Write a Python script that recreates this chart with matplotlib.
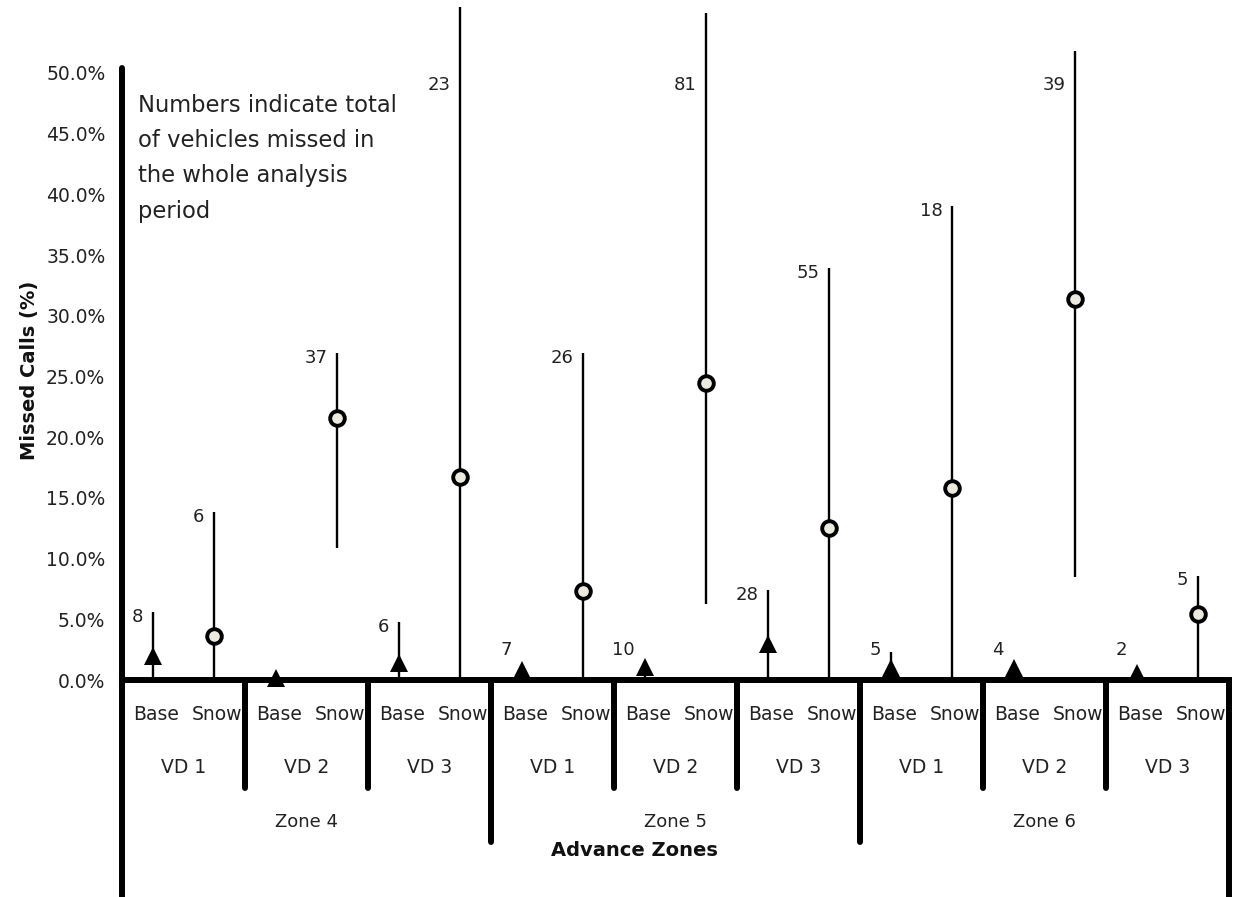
import matplotlib
matplotlib.use("Agg")
import matplotlib.pyplot as plt
import numpy as np

plt.rcParams['font.family'] = ['DejaVu Sans']

# data (values in %)
zones = ['Zone 4', 'Zone 5', 'Zone 6']
vds = ['VD 1', 'VD 2', 'VD 3']
conds = ['Base', 'Snow']

base_val = [2.0, 0.2, 1.4, 0.8, 1.1, 3.0, 1.0, 1.0, 0.6]
base_lo = [0, 0.2, 0, 0, 0, 0, 0, 0, 0]
base_hi = [5.6, 0.2, 4.8, 1.0, 1.2, 7.4, 2.3, 1.2, 0.7]
base_lbl = ['8', '', '6', '7', '10', '28', '5', '4', '2']

snow_val = [3.6, 21.6, 16.7, 7.3, 24.5, 12.5, 15.8, 31.4, 5.4]
snow_lo = [0, 10.9, 0, 0, 6.3, 0, 0, 8.5, 0]
snow_hi = [13.8, 26.9, 55.4, 26.9, 54.9, 33.9, 39.0, 51.8, 8.6]
snow_lbl = ['6', '37', '23', '26', '81', '55', '18', '39', '5']

W, H = 1236, 897
fig = plt.figure(figsize=(W / 100, H / 100), dpi=100)
ax = fig.add_axes([122 / W, 1 - 680 / H, (1229 - 122) / W, 680 / H])
ax.set_xlim(0, 18)
ax.set_ylim(0, 56)

n = len(base_val)
xb = np.arange(n) * 2 + 0.5
xs = np.arange(n) * 2 + 1.5

# error lines
ax.vlines(xb, base_lo, base_hi, color='black', lw=1.7, zorder=2)
ax.vlines(xs, snow_lo, snow_hi, color='black', lw=1.7, zorder=2)

# markers
ax.plot(xb, base_val, ls='none', marker='^', ms=13, color='black',
        mew=0, zorder=4, clip_on=False)
ax.plot(xs, snow_val, ls='none', marker='o', ms=10.5, mfc='#ece9df',
        mec='black', mew=2.8, zorder=4, clip_on=False)

# count labels
for x, hi, t in list(zip(xb, base_hi, base_lbl)) + list(zip(xs, snow_hi, snow_lbl)):
    if not t:
        continue
    y = min(max(hi - 0.4, 2.5), 49)
    ax.annotate(t, (x, y), xytext=(-7, 0), textcoords='offset points',
                ha='right', va='center', fontsize=13, color='#222222')

# axes styling
for s in ['top', 'right', 'left']:
    ax.spines[s].set_visible(False)
ax.spines['bottom'].set_linewidth(4.3)
ax.spines['bottom'].set_capstyle('projecting')
ax.set_xticks([])
ax.set_yticks(np.arange(0, 51, 5))
ax.set_yticklabels([f'{v:.1f}%' for v in np.arange(0, 51, 5)])
ax.tick_params(axis='y', length=0, pad=12, labelsize=13.5, labelcolor='#222222')

# left spine and category separators drawn below the plot area
lw_sep = 4.3
ax.plot([0, 0], [50.4, -18.5], color='black', lw=lw_sep, solid_capstyle='round', clip_on=False)
ax.plot([18, 18], [0, -18.5], color='black', lw=lw_sep, solid_capstyle='butt', clip_on=False)
for k in range(1, 9):
    bottom = -13.3 if k % 3 == 0 else -8.9
    ax.plot([2 * k, 2 * k], [0, bottom], color='black', lw=lw_sep,
            solid_capstyle='round', clip_on=False)

# multi-level category labels
for i in range(n):
    ax.text(xb[i] + 0.05, -2.8, conds[0], ha='center', va='center', fontsize=13.5, color='#222222')
    ax.text(xs[i] + 0.05, -2.8, conds[1], ha='center', va='center', fontsize=13.5, color='#222222')
    ax.text(2 * i + 1, -7.2, vds[i % 3], ha='center', va='center', fontsize=13.5, color='#222222')
for j, z in enumerate(zones):
    ax.text(6 * j + 3, -11.7, z, ha='center', va='center', fontsize=13, color='#222222')

fig.text(634 / W, 1 - 850 / H, 'Advance Zones', ha='center', va='center',
         fontsize=14, fontweight='bold', color='#111111')
fig.text(30 / W, 1 - 370 / H, 'Missed Calls (%)', ha='center', va='center',
         rotation=90, fontsize=14, fontweight='bold', color='#111111')

fig.text(138 / W, 1 - 94 / H,
         'Numbers indicate total\nof vehicles missed in\nthe whole analysis\nperiod',
         ha='left', va='top', fontsize=16.3, linespacing=1.68, color='#222222')

fig.savefig('out.png', dpi=100, facecolor='white')
